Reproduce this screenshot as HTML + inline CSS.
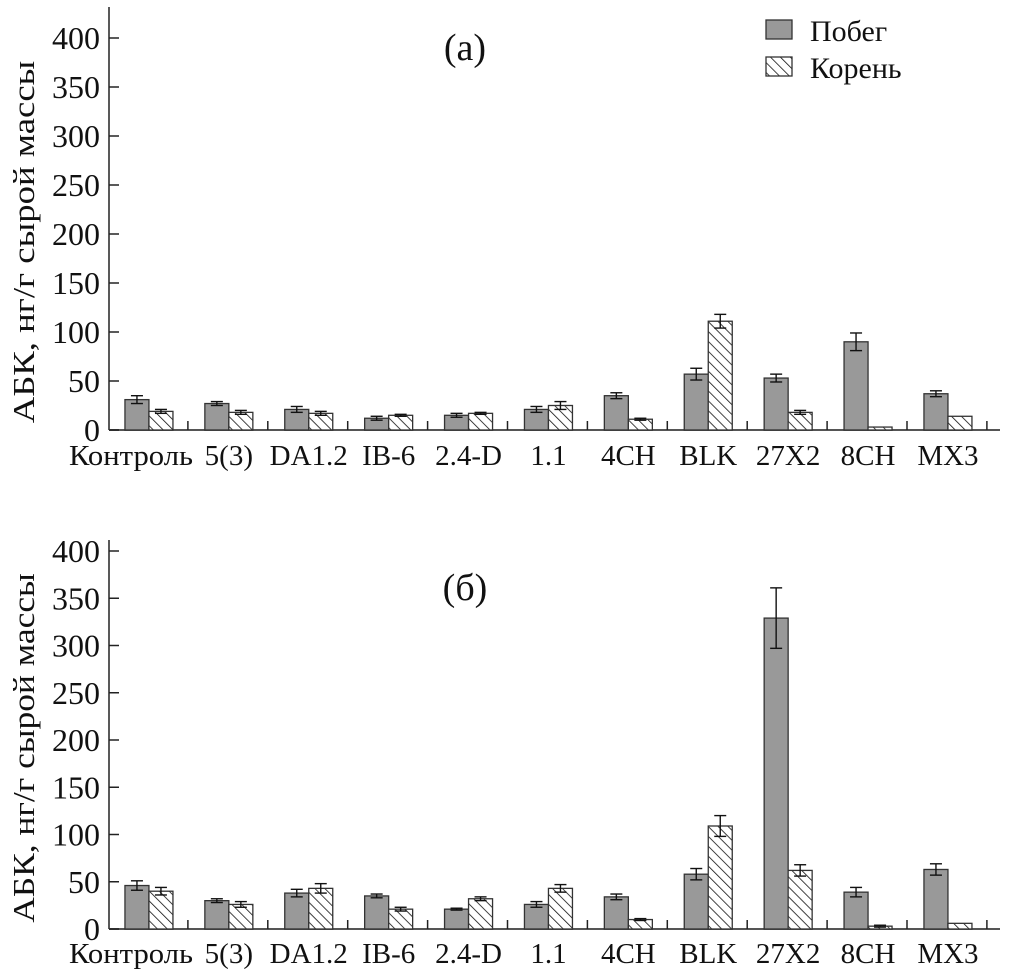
<!DOCTYPE html>
<html><head><meta charset="utf-8"><style>
html,body{margin:0;padding:0;background:#fff;}
svg text{font-family:"Liberation Serif",serif;fill:#111;}
</style></head><body>
<svg id="c" width="1010" height="975" xmlns="http://www.w3.org/2000/svg">
<defs>
<pattern id="hatch" patternUnits="userSpaceOnUse" width="7" height="7" patternTransform="rotate(-45)">
<rect width="7" height="7" fill="#fff"/><line x1="0" y1="0" x2="0" y2="7" stroke="#111" stroke-width="1.6"/>
</pattern>
</defs>
</svg>
<script>
const categories=["Контроль","5(3)","DA1.2","IB-6","2.4-D","1.1","4CH","BLK","27X2","8CH","MX3"];
const shootA=[31,27,21,12,15,21,35,57,53,90,37];
const shootErrA=[4,2,3,2,2,3,3,6,4,9,3];
const rootA=[19,18,17,15,17,25,11,111,18,3,14];
const rootErrA=[2,2,2,1,1,4,1,7,2,0,0];
const shootB=[46,30,38,35,21,26,34,58,329,39,63];
const shootErrB=[5,2,4,2,1,3,3,6,32,5,6];
const rootB=[40,26,43,21,32,43,10,109,62,3,6];
const rootErrB=[4,3,5,2,2,4,1,11,6,1,0];
const yTicks=[0,50,100,150,200,250,300,350,400];

const svg=document.getElementById('c');
const NS='http://www.w3.org/2000/svg';
function mk(tag,attrs,parent){const e=document.createElementNS(NS,tag);for(const k in attrs)e.setAttribute(k,attrs[k]);(parent||svg).appendChild(e);return e;}

function panel(id,y0,y400,axisTop,shoot,sErr,root,rErr,label,labelY,catY){
  const g=mk('g',{});
  
  
  const ax=109,x0=108,cw=79.9,bw=24;
  const y=v=>y0-(v/400)*(y0-y400);
  const xc=i=>x0+cw*(i+0.5)+1;
  const ya=mk('line',{x1:ax,y1:axisTop,x2:ax,y2:y0,stroke:'#222','stroke-width':1.5},g);
  
  
  const xa=mk('line',{x1:ax,y1:y0,x2:1000,y2:y0,stroke:'#555','stroke-width':2},g);
  
  
  yTicks.forEach(v=>{
    mk('line',{x1:ax,y1:y(v),x2:ax+10,y2:y(v),stroke:'#222','stroke-width':1.5},g);
    const t=mk('text',{x:100,y:y(v)+11,'text-anchor':'end','font-size':32},g);
    t.textContent=v;
    
    
  });
  const len=(y0-y400)*0.925;
  const tt=mk('text',{x:0,y:0,'text-anchor':'middle','font-size':31,textLength:len,lengthAdjust:'spacingAndGlyphs',transform:`translate(34,${(y0+y400)/2+8}) rotate(-90)`},g);
  tt.textContent='АБК, нг/г сырой массы';
  
  
  categories.forEach((c,i)=>{
    const bx=x0+cw*(i+1);
    mk('line',{x1:bx,y1:y0,x2:bx,y2:y0-9,stroke:'#222','stroke-width':1.5},g);
    const first=i===0;
    const t=mk('text',{x:first?193:xc(i),y:catY,'text-anchor':first?'end':'middle','font-size':29},g);
    if(first){t.setAttribute('textLength',124);t.setAttribute('lengthAdjust','spacingAndGlyphs');}
    t.textContent=c;
    
    
    const r1=mk('rect',{x:xc(i)-bw,y:y(shoot[i]),width:bw,height:y0-y(shoot[i]),fill:'#999',stroke:'#333','stroke-width':1.3},g);
    
    
    const r2=mk('rect',{x:xc(i),y:y(root[i]),width:bw,height:y0-y(root[i]),fill:'url(#hatch)',stroke:'#333','stroke-width':1.3},g);
    
    
    [[xc(i)-bw/2,shoot[i],sErr[i]],[xc(i)+bw/2,root[i],rErr[i]]].forEach(([cx,v,e])=>{
      if(e<=0)return;
      const eg=mk('g',{stroke:'#111','stroke-width':1.4},g);
      
      
      mk('line',{x1:cx,y1:y(v+e),x2:cx,y2:y(v-e)},eg);
      mk('line',{x1:cx-6,y1:y(v+e),x2:cx+6,y2:y(v+e)},eg);
      mk('line',{x1:cx-6,y1:y(v-e),x2:cx+6,y2:y(v-e)},eg);
    });
  });
  const pl=mk('text',{x:465,y:labelY,'text-anchor':'middle','font-size':38},g);
  pl.textContent=label;
  
  
}
panel('panel-a',430,38,7,shootA,shootErrA,rootA,rootErrA,'(а)',60,465);
panel('panel-b',929,551,540,shootB,shootErrB,rootB,rootErrB,'(б)',600,963);

const lg=mk('g',{});


const s1=mk('rect',{x:766,y:20,width:26,height:19,fill:'#999',stroke:'#333','stroke-width':1.3},lg);


const l1=mk('text',{x:810,y:41,'font-size':30},lg);
l1.textContent='Побег';


const s2=mk('rect',{x:766,y:57,width:26,height:19,fill:'url(#hatch)',stroke:'#333','stroke-width':1.3},lg);


const l2=mk('text',{x:810,y:78,'font-size':30},lg);
l2.textContent='Корень';


</script>
</body></html>
